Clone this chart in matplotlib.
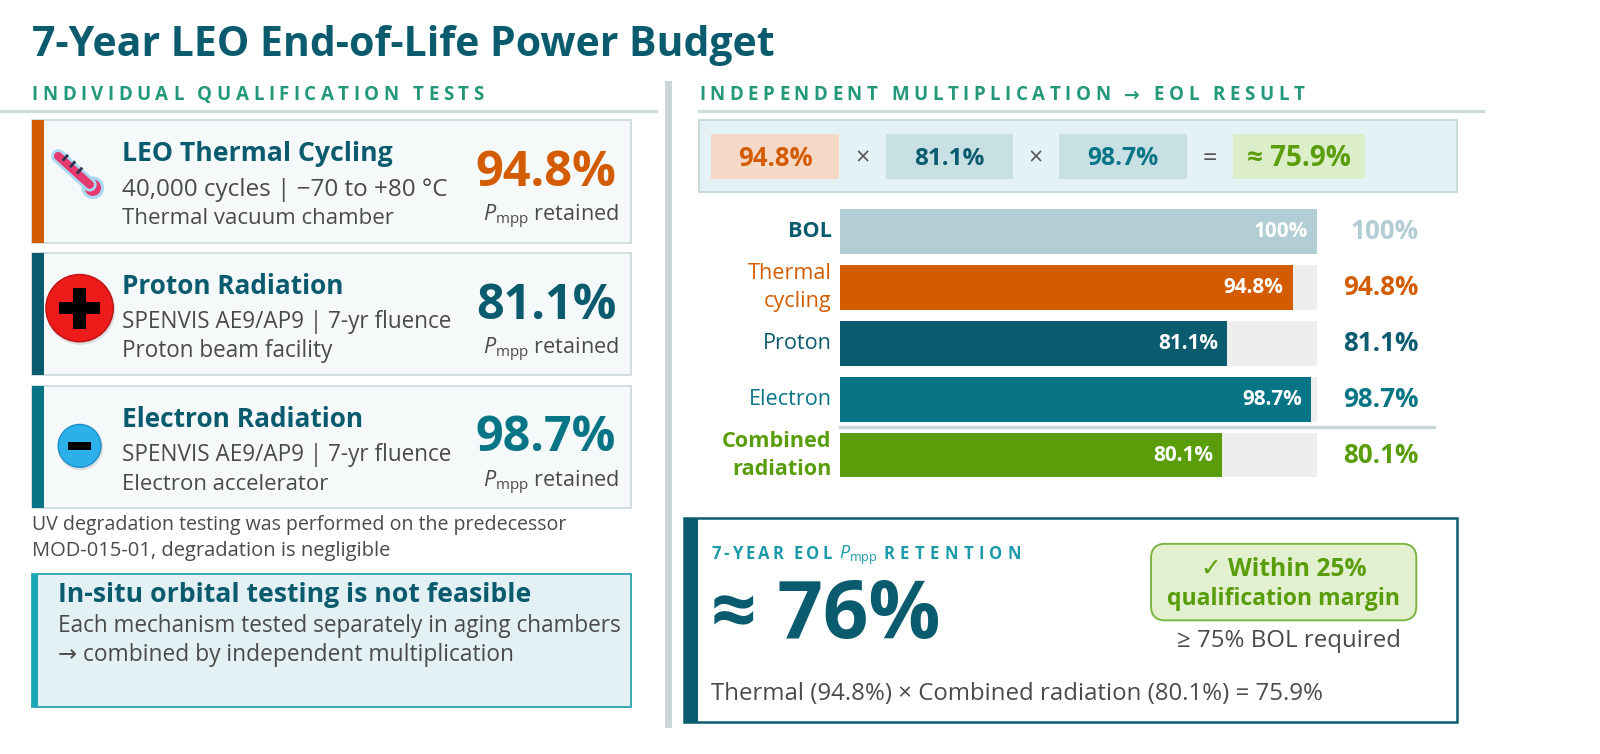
import matplotlib
matplotlib.use('Agg')
import matplotlib.pyplot as plt
from matplotlib.patches import Rectangle, FancyBboxPatch, Circle
from matplotlib.lines import Line2D
import numpy as np

# ---------------- data ----------------
title = '7-Year LEO End-of-Life Power Budget'
left_header = 'INDIVIDUAL QUALIFICATION TESTS'
right_header = 'INDEPENDENT MULTIPLICATION \u2192 EOL RESULT'
test_names = ['LEO Thermal Cycling', 'Proton Radiation', 'Electron Radiation']
test_line1 = ['40,000 cycles | \u221270 to +80 \u00b0C', 'SPENVIS AE9/AP9 | 7-yr fluence',
              'SPENVIS AE9/AP9 | 7-yr fluence']
test_line2 = ['Thermal vacuum chamber', 'Proton beam facility', 'Electron accelerator']
test_retained = [94.8, 81.1, 98.7]
bar_labels = ['BOL', 'Thermal\ncycling', 'Proton', 'Electron', 'Combined\nradiation']
bar_values = [100, 94.8, 81.1, 98.7, 80.1]
eol_product = 75.9
eol_rounded = 76
required_bol = 75
margin_pct = 25
note_lines = ['UV degradation testing was performed on the predecessor',
              'MOD-015-01, degradation is negligible']
info_title = 'In-situ orbital testing is not feasible'
info_lines = ['Each mechanism tested separately in aging chambers',
              '\u2192 combined by independent multiplication']

# ---------------- style ----------------
DARK = '#0b5b6f'
TEAL = '#087586'
ORANGE = '#d35c00'
GREEN = '#5a9d0b'
HGREEN = '#23987a'
GREY = '#4a4a4a'
LINE = '#cfdcdf'
BOLC = '#b2cdd3'

FONT = 'Open Sans'
plt.rcParams['font.family'] = [FONT, 'DejaVu Sans']
plt.rcParams['mathtext.fontset'] = 'custom'
plt.rcParams['mathtext.rm'] = FONT
plt.rcParams['mathtext.it'] = FONT + ':italic'
plt.rcParams['mathtext.bf'] = FONT + ':bold'

# layout units: reference measured on a 1568 x 739 grid
W, H = 1568, 739
S = 1600 / W  # real pixels per layout unit
fig = plt.figure(figsize=(16, 7.54), dpi=100)
fig.patch.set_facecolor('white')
ax = fig.add_axes([0, 0, 1, 1])
ax.set_xlim(0, W)
ax.set_ylim(H, 0)
ax.axis('off')
R = fig.canvas.get_renderer()


def width_of(s, size, weight='normal'):
    t = ax.text(0, 0, s, fontsize=size, weight=weight)
    w = t.get_window_extent(renderer=R).width / S
    t.remove()
    return w


def fit(s, w, weight='normal', ref=20):
    return ref * w / width_of(s, ref, weight)


def txt(x, y, s, w=None, size=14, ha='left', va='center', axis=None, **kw):
    a = axis if axis is not None else ax
    if w is not None:
        size = fit(s, w, kw.get('weight', 'normal'))
    return a.text(x, y, s, fontsize=size, ha=ha, va=va, **kw)


def spaced(x, y, s, w, size, color, weight='bold'):
    ws = []
    for ch in s:
        if ch == ' ':
            ws.append(width_of('a a', size, weight) - width_of('aa', size, weight))
        else:
            ws.append(width_of(ch, size, weight))
    track = (w - sum(ws)) / (len(s) - 1)
    cx = x
    for ch, cw in zip(s, ws):
        if ch != ' ':
            ax.text(cx, y, ch, fontsize=size, weight=weight, color=color,
                    ha='left', va='baseline')
        cx += cw + track
    return cx - track


# ---------------- title & headers ----------------
txt(31, 44.5, title, w=729, weight='bold', color=DARK)
spaced(31, 98.5, left_header, 443, 13.5, HGREEN)
spaced(685, 98.5, right_header, 593, 13.5, HGREEN)
ax.add_line(Line2D([0, 643], [109, 109], color=LINE, lw=2.4))
ax.add_line(Line2D([685, 1453], [109, 109], color=LINE, lw=2.4))
ax.add_line(Line2D([655, 655], [82, 710], color='#c9d7db', lw=5))

# ---------------- left cards ----------------
card_tops = [118, 248, 378]
accents = [ORANGE, DARK, TEAL]
val_colors = [ORANGE, DARK, TEAL]
name_w = [265, 217, 236]
l1_w = [318, 323, 323]
l2_w = [267, 206, 202]
for i in range(3):
    top = card_tops[i]
    ax.add_patch(Rectangle((31, top), 587, 120, fc='#f5f9fa', ec='#cfdbde', lw=1.3))
    ax.add_patch(Rectangle((31, top), 12, 120, fc=accents[i], ec='none'))
    txt(120, top + 33, test_names[i], w=name_w[i], weight='bold', color=DARK)
    txt(120, top + 68, test_line1[i], w=l1_w[i], color=GREY)
    txt(120, top + 96.5, test_line2[i], w=l2_w[i], color=GREY)
    txt(604, top + 52, f'{test_retained[i]}%', w=138, ha='right',
        weight='bold', color=val_colors[i])
    txt(607, top + 95, r'$P_{\mathrm{mpp}}$ retained', w=133, ha='right',
        color=GREY)

# thermometer icon
p0, p1 = np.array([57, 153]), np.array([88, 181])
ax.add_line(Line2D([p0[0], p1[0]], [p0[1], p1[1]], color='#a9d8f0', lw=10,
                   solid_capstyle='round'))
ax.add_patch(Circle((91, 184), 11, fc='#a9d8f0', ec='none'))
ax.add_line(Line2D([p0[0], p1[0]], [p0[1], p1[1]], color='#e5396f', lw=6,
                   solid_capstyle='round'))
ax.add_patch(Circle((91, 184), 8, fc='#e5396f', ec='none'))
d = (p1 - p0) / np.linalg.norm(p1 - p0)
n = np.array([d[1], -d[0]])
for tpos in (0.15, 0.38, 0.6):
    c = p0 + (p1 - p0) * tpos
    a = c + n * 1
    b = c + n * 6
    ax.add_line(Line2D([a[0], b[0]], [a[1], b[1]], color='#2d3350', lw=2))

# proton icon
ax.add_patch(Circle((79, 304), 34, fc='#b0b0b0', ec='none', alpha=0.35))
ax.add_patch(Circle((78, 302), 33, fc='#ee1b1b', ec='#c01010', lw=1))
ax.add_patch(Rectangle((78 - 20, 302 - 6), 40, 12, fc='black', ec='none'))
ax.add_patch(Rectangle((78 - 6, 302 - 20), 12, 40, fc='black', ec='none'))

# electron icon
ax.add_patch(Circle((79, 439), 22, fc='#b0b0b0', ec='none', alpha=0.35))
ax.add_patch(Circle((78, 437), 21, fc='#2cb0ea', ec='#1c90c8', lw=1))
ax.add_patch(Rectangle((78 - 11, 437 - 4), 22, 8, fc='black', ec='none'))

# note
txt(31, 515, note_lines[0], w=522, color=GREY)
txt(31, 540, note_lines[1], w=351, color=GREY)

# info box
ax.add_patch(Rectangle((31, 563), 587, 130, fc='#e4f1f4', ec='#2ba3af', lw=1.3))
ax.add_patch(Rectangle((31, 563), 6, 130, fc='#19a9b6', ec='none'))
txt(57, 583, info_title, w=463, weight='bold', color=DARK)
txt(57, 614, info_lines[0], w=550, color=GREY)
txt(57, 642, info_lines[1], w=445, color=GREY)

# ---------------- formula row ----------------
ax.add_patch(Rectangle((685, 118), 743, 70, fc='#e5f2f5', ec='#c3d6da', lw=1.3))
chip_x = [697, 868, 1038, 1208]
chip_w = [125, 125, 125, 130]
chip_fc = ['#f6d8c7', '#c8dfe3', '#c8dfe3', '#dcedc9']
chip_tc = [ORANGE, DARK, TEAL, GREEN]
chip_txt = [f'{test_retained[0]}%', f'{test_retained[1]}%', f'{test_retained[2]}%',
            f'\u2248 {eol_product}%']
chip_tw = [73, 69, 70, 102]
for i in range(4):
    ax.add_patch(Rectangle((chip_x[i], 131), chip_w[i], 44, fc=chip_fc[i], ec='none'))
    txt(chip_x[i] + chip_w[i] / 2, 155.5, chip_txt[i], w=chip_tw[i],
        ha='center', weight='bold', color=chip_tc[i])
for xo, s in [(845, '\u00d7'), (1015, '\u00d7'), (1186, '=')]:
    txt(xo, 156, s, size=18, ha='center', color='#555555')

# ---------------- bar chart ----------------
bx0, bx1, by0, by1 = 823, 1291, 205, 468
ax2 = fig.add_axes([bx0 / W, 1 - by1 / H, (bx1 - bx0) / W, (by1 - by0) / H])
ax2.set_xlim(0, 100)
ax2.set_ylim(4.4, -0.4)
ax2.axis('off')
ax2.patch.set_alpha(0)
ypos = np.arange(len(bar_values))
bar_colors = [BOLC, ORANGE, DARK, TEAL, GREEN]
lab_colors = [DARK, ORANGE, DARK, TEAL, GREEN]
lab_weight = ['bold', 'normal', 'normal', 'normal', 'bold']
right_colors = [BOLC, ORANGE, DARK, TEAL, GREEN]
ax2.barh(ypos, [100] * len(bar_values), height=0.8, color='#eeeeee', zorder=1)
ax2.barh(ypos, bar_values, height=0.8, color=bar_colors, zorder=2)
px = 100 / (bx1 - bx0)
in_size = fit('94.8%', 59, 'bold')
out_size = fit('94.8%', 74, 'bold')
lab_size = fit('Electron', 81)
right_x = (1390 - bx0) * px
for i, v in enumerate(bar_values):
    sv = f'{v:g}%'
    ax2.text(v - 9 * px, i, sv, ha='right', va='center', fontsize=in_size,
             weight='bold', color='white', zorder=3)
    ax2.text(right_x, i, sv, ha='right', va='center', fontsize=out_size,
             weight='bold', color=right_colors[i], clip_on=False)
    ax2.text(-8 * px, i, bar_labels[i], ha='right', va='center', fontsize=lab_size,
             weight=lab_weight[i], color=lab_colors[i], linespacing=1.45,
             clip_on=False)
ax.add_line(Line2D([823, 1405], [418.5, 418.5], color='#c7d5d9', lw=2.4))

# ---------------- result box ----------------
ax.add_patch(Rectangle((670, 508), 758, 200, fc='white', ec=DARK, lw=1.8))
ax.add_patch(Rectangle((670, 508), 14, 200, fc=DARK, ec='none'))
RT = '#1b9aaa'
xe = spaced(697, 548, '7-YEAR EOL', 118, 12, RT)
mt = ax.text(xe + 7, 548, r'$P_{\mathrm{mpp}}$', fontsize=13, color=RT, va='baseline')
mw = mt.get_window_extent(renderer=R).width / S
spaced(xe + 7 + mw + 6, 548, 'RETENTION', 1001 - (xe + 13 + mw), 12, RT)
txt(697, 605, f'\u2248 {eol_rounded}%', w=225, weight='bold', color=DARK)
txt(697, 680, f'Thermal ({test_retained[0]}%) \u00d7 Combined radiation ({bar_values[4]}%) = {eol_product}%',
    w=598, color=GREY)
ax.add_patch(FancyBboxPatch((1128, 533), 260, 75, boxstyle='round,pad=0,rounding_size=14',
                            fc='#e2f0d0', ec='#7db544', lw=1.4))
txt(1258, 558, f'\u2713 Within {margin_pct}%', w=162, ha='center',
    weight='bold', color=GREEN)
txt(1258, 587, 'qualification margin', w=228, ha='center',
    weight='bold', color=GREEN)
txt(1263, 628, f'\u2265 {required_bol}% BOL required', w=219, ha='center',
    color=GREY)

fig.savefig('out.png', dpi=100, facecolor='white')
